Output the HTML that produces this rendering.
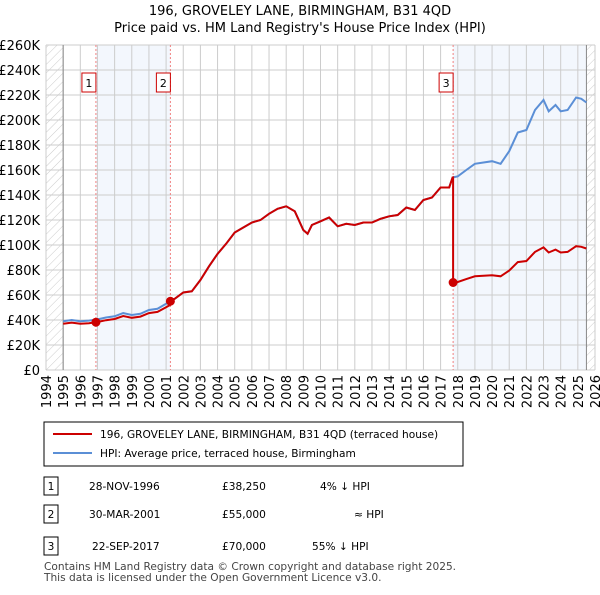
<!DOCTYPE html>
<html><head><meta charset="utf-8"><style>
body{margin:0;background:#fff;font-family:"Liberation Sans","DejaVu Sans",sans-serif;}
svg text{font-family:"DejaVu Sans","Liberation Sans",sans-serif;}
</style></head><body>
<svg id="c" width="600" height="590">
<defs><pattern id="h" width="6" height="6" patternUnits="userSpaceOnUse" patternTransform="rotate(45)"><line x1="0" y1="0" x2="0" y2="6" stroke="#ccc" stroke-width="1"/></pattern></defs>
<text x="300" y="15" text-anchor="middle" font-size="13">196, GROVELEY LANE, BIRMINGHAM, B31 4QD</text>
<text x="300" y="32" text-anchor="middle" font-size="13">Price paid vs. HM Land Registry's House Price Index (HPI)</text>
<g id="plot"></g>
<rect x="44" y="422" width="419" height="44" fill="#fff" stroke="#000" stroke-width="1"/>
<line x1="53" y1="434" x2="92" y2="434" stroke="#cc0000" stroke-width="2"/>
<text x="100" y="438" font-size="10.6">196, GROVELEY LANE, BIRMINGHAM, B31 4QD (terraced house)</text>
<line x1="53" y1="453" x2="92" y2="453" stroke="#5b8fd6" stroke-width="2"/>
<text x="100" y="457" font-size="10.6">HPI: Average price, terraced house, Birmingham</text>
<g font-size="10.6">
<rect x="44" y="477" width="14" height="18" fill="#fff" stroke="#000"/><text x="51" y="490" text-anchor="middle">1</text>
<text x="89" y="490">28-NOV-1996</text><text x="222" y="490">£38,250</text><text x="320" y="490">4% ↓ HPI</text>
<rect x="44" y="505" width="14" height="18" fill="#fff" stroke="#000"/><text x="51" y="518" text-anchor="middle">2</text>
<text x="89" y="518">30-MAR-2001</text><text x="222" y="518">£55,000</text><text x="354" y="518">≈ HPI</text>
<rect x="44" y="537" width="14" height="18" fill="#fff" stroke="#000"/><text x="51" y="550" text-anchor="middle">3</text>
<text x="92" y="550">22-SEP-2017</text><text x="222" y="550">£70,000</text><text x="312" y="550">55% ↓ HPI</text>
</g>
<text x="44" y="570" font-size="10.6" fill="#444">Contains HM Land Registry data © Crown copyright and database right 2025.</text>
<text x="44" y="581" font-size="10.6" fill="#444">This data is licensed under the Open Government Licence v3.0.</text>
</svg>
<script>
const hpiYears=[1995.0,1995.5,1996,1996.5,1997,1997.5,1998,1998.5,1999,1999.5,2000,2000.5,2001,2001.5,2002,2002.5,2003,2003.5,2004,2004.5,2005,2005.5,2006,2006.5,2007,2007.5,2008,2008.5,2009,2009.25,2009.5,2010,2010.5,2011,2011.5,2012,2012.5,2013,2013.5,2014,2014.5,2015,2015.5,2016,2016.5,2017,2017.5,2017.7,2018,2018.5,2019,2019.5,2020,2020.5,2021,2021.5,2022,2022.5,2023,2023.3,2023.7,2024,2024.4,2024.9,2025.2,2025.5];
const hpiValues=[39000,40000,39000,39500,40500,42000,43000,45500,44000,45000,48000,49000,53000,57000,62000,63000,72000,83000,93000,101000,110000,114000,118000,120000,125000,129000,131000,127000,112000,109000,116000,119000,122000,115000,117000,116000,118000,118000,121000,123000,124000,130000,128000,136000,138000,146000,146000,154000,155000,160000,165000,166000,167000,165000,175000,190000,192000,208000,216000,207000,212000,207000,208000,218000,217000,214000];
const saleYears=[1996.91,2001.25,2017.73];
const salePrices=[38250,55000,70000];
const saleLabels=["1","2","3"];
const yTicks=[0,20000,40000,60000,80000,100000,120000,140000,160000,180000,200000,220000,240000,260000];
const xTicks=[1994,1995,1996,1997,1998,1999,2000,2001,2002,2003,2004,2005,2006,2007,2008,2009,2010,2011,2012,2013,2014,2015,2016,2017,2018,2019,2020,2021,2022,2023,2024,2025,2026];

const X0=46,X1=595,Y0=370,Y1=45;
const xs=y=>X0+(y-1994)/(2026-1994)*(X1-X0);
const ys=v=>Y0-v/260000*(Y0-Y1);
const NS="http://www.w3.org/2000/svg";
const g=document.getElementById('plot');
function mk(t,a,p){const e=document.createElementNS(NS,t);for(const k in a)e.setAttribute(k,a[k]);(p||g).appendChild(e);return e;}
function hpiAt(t){for(let i=0;i<hpiYears.length-1;i++){if(t<=hpiYears[i+1]){const f=(t-hpiYears[i])/(hpiYears[i+1]-hpiYears[i]);return hpiValues[i]+f*(hpiValues[i+1]-hpiValues[i]);}}return hpiValues[hpiValues.length-1];}
const endY=hpiYears[hpiYears.length-1];
let r=mk('rect',{x:xs(saleYears[0]),y:Y1,width:xs(saleYears[1])-xs(saleYears[0]),height:Y0-Y1,fill:'#eef3fc',opacity:0.7});

r=mk('rect',{x:xs(saleYears[2]),y:Y1,width:xs(endY)-xs(saleYears[2]),height:Y0-Y1,fill:'#eef3fc',opacity:0.7});

r=mk('rect',{x:X0,y:Y1,width:xs(1995)-X0,height:Y0-Y1,fill:'url(#h)'});

r=mk('rect',{x:xs(endY),y:Y1,width:X1-xs(endY),height:Y0-Y1,fill:'url(#h)'});

yTicks.forEach(v=>{const l=mk('line',{x1:X0,x2:X1,y1:ys(v),y2:ys(v),stroke:'#ccc'});

const t=mk('text',{x:X0-6,y:ys(v)+5,'text-anchor':'end','font-size':13});t.textContent=v==0?'£0':'£'+(v/1000)+'K';
});
xTicks.forEach(y=>{const l=mk('line',{x1:xs(y),x2:xs(y),y1:Y1,y2:Y0,stroke:'#ccc'});

const t=mk('text',{x:0,y:0,'text-anchor':'end','font-size':13,transform:`translate(${xs(y)+5},${Y0+5}) rotate(-90)`});t.textContent=y;
});
let a=mk('line',{x1:xs(1995),x2:xs(1995),y1:Y1,y2:Y0,stroke:'#888'});
a=mk('line',{x1:xs(endY),x2:xs(endY),y1:Y1,y2:Y0,stroke:'#888'});
saleYears.forEach((s,i)=>{const l=mk('line',{x1:xs(s),x2:xs(s),y1:Y1,y2:Y0,stroke:'#f08080','stroke-dasharray':'2,2'});
});
let d='';hpiYears.forEach((t,i)=>{d+=(i?'L':'M')+xs(t).toFixed(1)+','+ys(hpiValues[i]).toFixed(1);});
let p=mk('path',{d:d,fill:'none',stroke:'#5b8fd6','stroke-width':2});

const ratios=saleYears.map((s,i)=>salePrices[i]/hpiAt(s));
d='';let first=true;
const pts=[...hpiYears,...saleYears].sort((a,b)=>a-b);
pts.forEach(t=>{let k=0;for(let i=0;i<saleYears.length;i++)if(t>=saleYears[i])k=i;
const v=hpiAt(t)*ratios[k];
if(saleYears.includes(t)&&k>0){const pv=hpiAt(t)*ratios[k-1];d+='L'+xs(t).toFixed(1)+','+ys(pv).toFixed(1);}
d+=(first?'M':'L')+xs(t).toFixed(1)+','+ys(v).toFixed(1);first=false;});
p=mk('path',{d:d,fill:'none',stroke:'#cc0000','stroke-width':2});

saleYears.forEach((s,i)=>{const c=mk('circle',{cx:xs(s),cy:ys(salePrices[i]),r:4.5,fill:'#cc0000'});

const b=mk('rect',{x:xs(s)-14,y:73,width:14,height:19,fill:'#fff',stroke:'#cc0000'});

const t=mk('text',{x:xs(s)-7,y:87,'text-anchor':'middle','font-size':11});t.textContent=saleLabels[i];
});
</script>
</body></html>
